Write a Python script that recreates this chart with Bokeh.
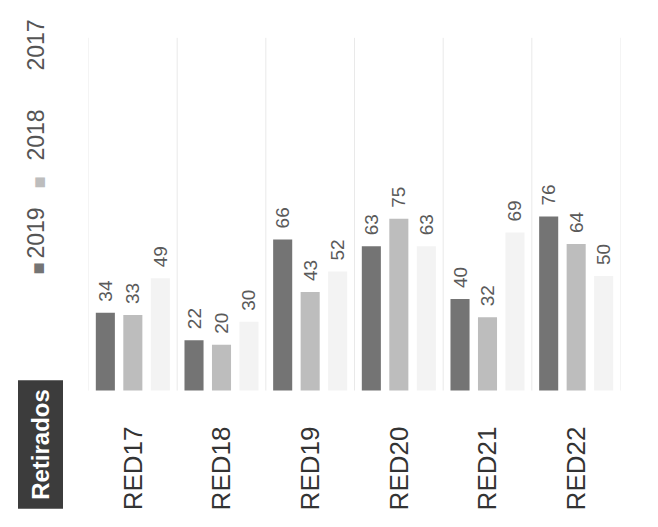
import math
from bokeh.plotting import figure
from bokeh.layouts import row
from bokeh.models import FactorRange, Range1d, Label, ColumnDataSource
from bokeh.transform import dodge
from bokeh.core.properties import value
from bokeh.embed import file_html
from bokeh.resources import INLINE

categories = ["RED17", "RED18", "RED19", "RED20", "RED21", "RED22"]
series_names = ["2019", "2018", "2017"]
v2019 = [34, 22, 66, 63, 40, 76]
v2018 = [33, 20, 43, 75, 32, 64]
v2017 = [49, 30, 52, 63, 69, 50]
title_text = "Retirados"

colors = ["#747474", "#bdbdbd", "#f3f3f3"]
offsets = [-0.31, 0.0, 0.31]
FONT = "Liberation Sans"

H = 511
LW = 88
# value axis: baseline 121 px above the bottom, 2.29 px per unit
Y0, Y1 = -52.8, 170.3
GRID_TOP = 154

p = figure(width=642 - LW, height=H,
           x_range=FactorRange(*categories, range_padding=0),
           y_range=Range1d(Y0, Y1),
           output_backend="svg", toolbar_location=None,
           min_border_left=0, min_border_right=22,
           min_border_top=0, min_border_bottom=0)
p.outline_line_color = None
p.background_fill_color = "white"
p.border_fill_color = "white"
p.xgrid.grid_line_color = None
p.ygrid.grid_line_color = None
p.yaxis.visible = False

src = ColumnDataSource(dict(cat=categories, v2019=v2019, v2018=v2018, v2017=v2017,
                            l2019=[str(v) for v in v2019],
                            l2018=[str(v) for v in v2018],
                            l2017=[str(v) for v in v2017]))

# category separator lines
sep = ColumnDataSource(dict(cat=categories))
p.segment(x0=dodge("cat", -0.5, range=p.x_range), y0=0,
          x1=dodge("cat", -0.5, range=p.x_range), y1=GRID_TOP,
          source=sep, line_color="#e9e9e9", line_width=1)
last = ColumnDataSource(dict(cat=categories[-1:]))
p.segment(x0=dodge("cat", 0.5, range=p.x_range), y0=0,
          x1=dodge("cat", 0.5, range=p.x_range), y1=GRID_TOP,
          source=last, line_color="#e9e9e9", line_width=1)

for name, col, off in zip(series_names, colors, offsets):
    p.vbar(x=dodge("cat", off, range=p.x_range), top="v" + name, bottom=0, width=0.215,
           source=src, fill_color=col, line_color=None)
    p.text(x=dodge("cat", off, range=p.x_range), y="v" + name, text="l" + name,
           source=src, angle=math.pi / 2, text_align="left", text_baseline="middle",
           y_offset=-11, text_font=value(FONT), text_font_size="19px",
           text_color="#5a5a5a")

ax = p.xaxis[0]
ax.fixed_location = 0
ax.axis_line_color = None
ax.major_tick_line_color = None
ax.minor_tick_line_color = None
ax.major_tick_out = 0
ax.major_tick_in = 0
ax.major_label_orientation = math.pi / 2
ax.major_label_standoff = 36
ax.major_label_text_font = FONT
ax.major_label_text_font_size = "26px"
ax.major_label_text_color = "#333333"

# left strip: rotated legend and title box
side = figure(width=LW, height=H, x_range=Range1d(0, LW), y_range=Range1d(0, H),
              output_backend="svg", toolbar_location=None,
              min_border_left=0, min_border_right=0, min_border_top=0, min_border_bottom=0)
side.axis.visible = False
side.grid.grid_line_color = None
side.outline_line_color = None
side.border_fill_color = "white"

leg_items = [("■", "#747474", 37, 243, "center", "20px"),
             ("2019", "#555555", 35, 253, "left", "23px"),
             ("■", "#bdbdbd", 38, 329, "center", "20px"),
             ("2018", "#555555", 35, 351, "left", "23px"),
             ("2017", "#555555", 35, 441, "left", "23px")]
for t, c, x, y, al, fs in leg_items:
    side.add_layout(Label(x=x, y=y, text=t,
                          angle=math.pi / 2, text_align=al, text_baseline="middle",
                          text_font=FONT, text_font_size=fs, text_color=c))

side.add_layout(Label(x=40, y=67, text=title_text,
                      angle=math.pi / 2, text_align="center", text_baseline="middle",
                      text_font=FONT, text_font_size="24px", text_font_style="bold",
                      text_color="white", background_fill_color="#3c3c3c",
                      padding=9))

layout = row(side, p, spacing=0)
open("out.html", "w").write(file_html(layout, INLINE))
